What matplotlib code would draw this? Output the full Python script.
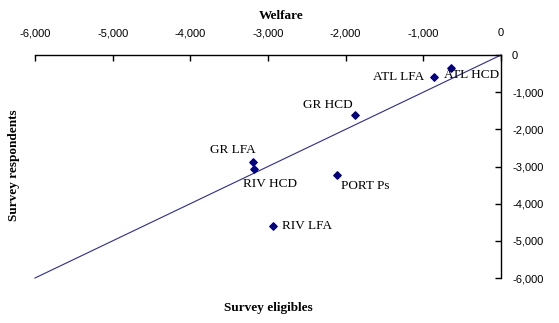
import matplotlib
matplotlib.use("Agg")
import matplotlib.pyplot as plt
from matplotlib.ticker import FuncFormatter

labels = ["ATL HCD", "ATL LFA", "GR HCD", "GR LFA", "RIV HCD", "PORT Ps", "RIV LFA"]
eligibles = [-650, -860, -1880, -3190, -3180, -2110, -2930]
respondents = [-360, -600, -1620, -2880, -3070, -3230, -4610]
ticks = [-6000, -5000, -4000, -3000, -2000, -1000, 0]

fig = plt.figure(figsize=(5.59, 3.23), dpi=100)
ax = fig.add_axes([35/559, 1-278/323, (501-35)/559, (278-55)/323])

ax.plot([-6000, 0], [-6000, 0], color="#2a2aa0", lw=0.8, clip_on=False)
ax.scatter(eligibles, respondents, marker="D", s=14, color="#000080", zorder=3)

offsets = {
    "ATL HCD": (-5, -9, "left"),
    "ATL LFA": (-7, -4, "right"),
    "GR HCD": (-2, 3, "right"),
    "GR LFA": (-15, 4, "center"),
    "RIV HCD": (-8, -15, "left"),
    "PORT Ps": (3, -12, "left"),
    "RIV LFA": (6, -4, "left"),
}
for lab, x, y in zip(labels, eligibles, respondents):
    dx, dy, ha = offsets[lab]
    ax.annotate(lab, (x, y), xytext=(dx, dy), textcoords="offset points",
                ha=ha, va="bottom", fontsize=9.5, family="Liberation Serif")

ax.set_xlim(-6000, 0)
ax.set_ylim(-6000, 0)
ax.set_xticks(ticks)
ax.set_yticks(ticks)
fmt = FuncFormatter(lambda v, p: f"{int(v):,}")
ax.xaxis.set_major_formatter(fmt)
ax.yaxis.set_major_formatter(fmt)
ax.xaxis.tick_top()
ax.yaxis.tick_right()
ax.tick_params(direction="in", length=4, width=1, labelsize=8, pad=12)
for t in ax.get_xticklabels() + ax.get_yticklabels():
    t.set_family("Liberation Sans")
ax.tick_params(axis="y", pad=8)
ax.spines["left"].set_visible(False)
ax.spines["bottom"].set_visible(False)
ax.spines["top"].set_linewidth(1)
ax.spines["right"].set_linewidth(1)

fig.text(281/559, 1-16/323, "Welfare", ha="center", va="center",
         fontsize=9.5, fontweight="bold", family="Liberation Serif")
fig.text(268/559, 1-308/323, "Survey eligibles", ha="center", va="center",
         fontsize=9.5, fontweight="bold", family="Liberation Serif")
fig.text(14/559, 1-165/323, "Survey respondents", ha="center", va="center",
         rotation=90, fontsize=9.5, fontweight="bold", family="Liberation Serif")

fig.savefig("out.png", dpi=100)
